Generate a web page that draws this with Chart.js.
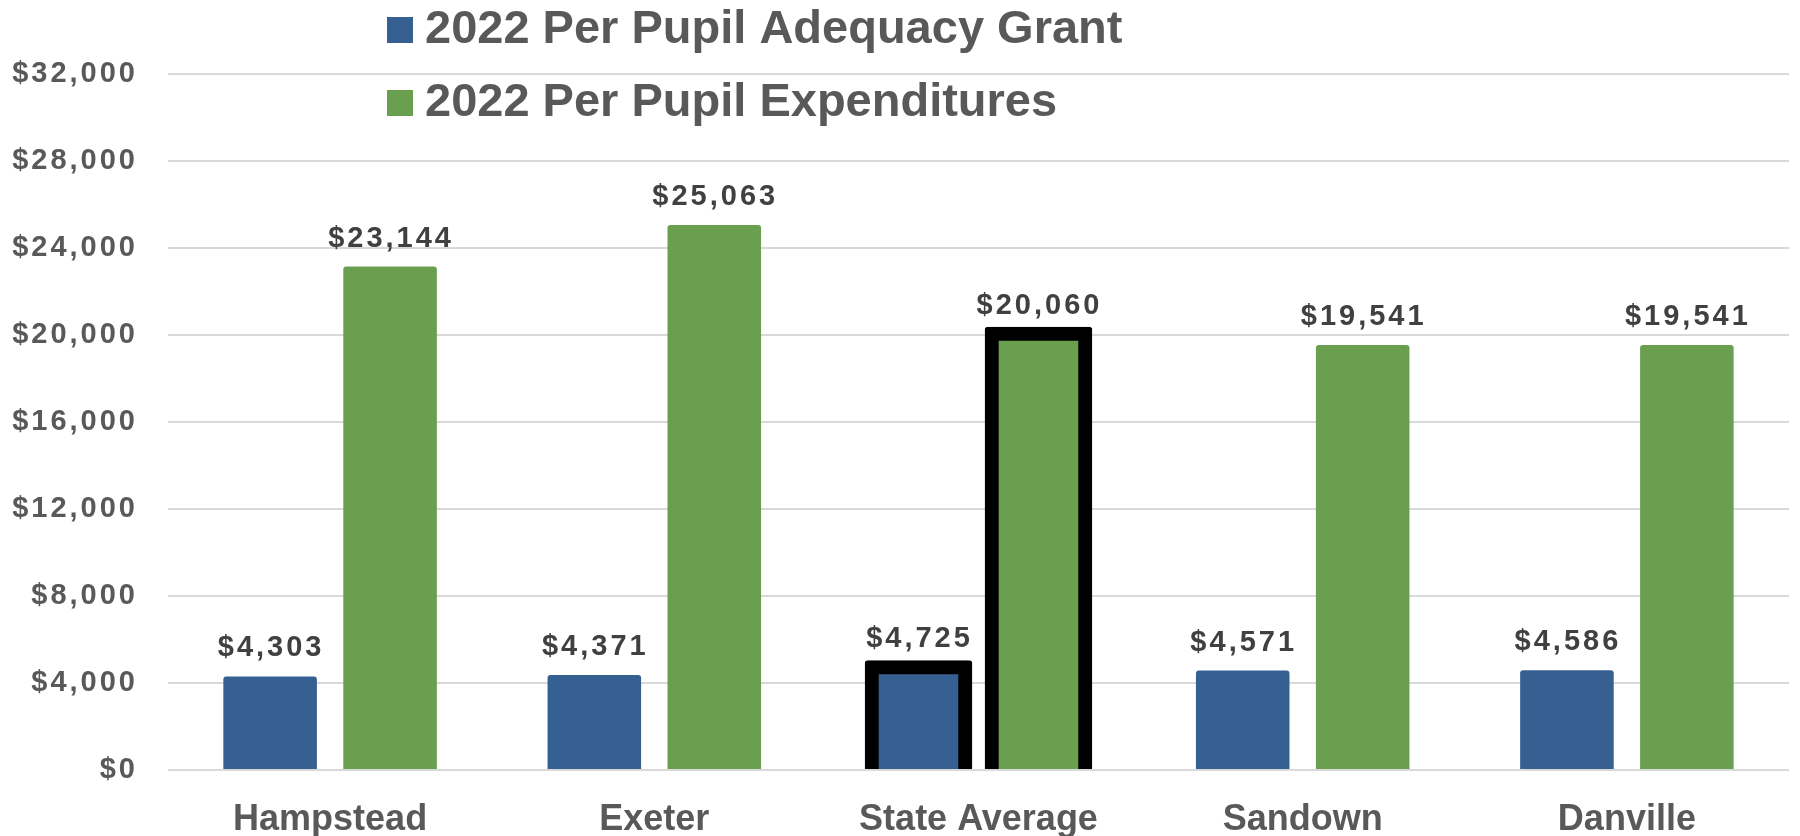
<!DOCTYPE html>
<html>
<head>
<meta charset="utf-8">
<title>Per Pupil Adequacy Grant vs Expenditures</title>
<script src="https://cdn.jsdelivr.net/npm/chart.js@4.4.1/dist/chart.umd.min.js"></script>
<style>
  html, body { margin: 0; padding: 0; background: #fff; }
  #wrap { width: 1800px; height: 836px; }
</style>
</head>
<body>
<div id="wrap"><canvas id="barChart" width="1800" height="836"></canvas></div>
<script>
// chart data
const categories = ['Hampstead', 'Exeter', 'State Average', 'Sandown', 'Danville'];
const adequacyGrant = [4303, 4371, 4725, 4571, 4586];
const expenditures = [23144, 25063, 20060, 19541, 19541];
const seriesNames = ['2022 Per Pupil Adequacy Grant', '2022 Per Pupil Expenditures'];
const yTicks = [0, 4000, 8000, 12000, 16000, 20000, 24000, 28000, 32000];
const highlighted = ['State Average'];

const BLUE = '#366092';
const GREEN = '#6a9f50';
const FONT = '"Liberation Sans", Arial, sans-serif';

const money = v => '$' + Number(v).toLocaleString('en-US');
const isHi = categories.map(c => highlighted.includes(c));

// outline only the highlighted category, centred on the bar edge like Excel
const hiBorder = isHi.map(h => h ? 14 : 0);
const hiInflate = isHi.map(h => h ? 7 : 0);

// draws spaced data labels, switches spacing off for x labels, draws legend
const labelsAndLegend = {
    id: 'labelsAndLegend',
    beforeDraw(chart) {
        chart.ctx.letterSpacing = '3px';
    },
    afterDatasetsDraw(chart) {
        const ctx = chart.ctx;
        ctx.save();
        ctx.font = 'bold 29px ' + FONT;
        ctx.fillStyle = '#404040';
        ctx.textAlign = 'center';
        ctx.textBaseline = 'alphabetic';
        chart.data.datasets.forEach((ds, di) => {
            const meta = chart.getDatasetMeta(di);
            meta.data.forEach((bar, i) => {
                ctx.fillText(money(ds.data[i]), bar.x + 1, bar.y - 20);
            });
        });
        ctx.restore();
        ctx.letterSpacing = '0px';
    },
    afterDraw(chart) {
        const ctx = chart.ctx;
        ctx.save();
        ctx.letterSpacing = '0px';
        ctx.font = 'bold 47px ' + FONT;
        ctx.textBaseline = 'alphabetic';
        ctx.textAlign = 'left';
        chart.data.datasets.forEach((ds, di) => {
            const top = 17 + di * 73;
            ctx.fillStyle = ds.backgroundColor;
            ctx.fillRect(387, top, 26, 26);
            ctx.fillStyle = '#595959';
            ctx.fillText(ds.label, 425, top + 26);
        });
        ctx.restore();
    }
};

const chart = new Chart(document.getElementById('barChart'), {
    type: 'bar',
    data: {
        labels: categories,
        datasets: [
            {
                label: seriesNames[0],
                data: adequacyGrant,
                backgroundColor: BLUE,
                borderColor: '#000',
                borderWidth: hiBorder,
                inflateAmount: hiInflate,
                borderRadius: 3,
                categoryPercentage: 0.74,
                barPercentage: 0.78
            },
            {
                label: seriesNames[1],
                data: expenditures,
                backgroundColor: GREEN,
                borderColor: '#000',
                borderWidth: hiBorder,
                inflateAmount: hiInflate,
                borderRadius: 3,
                categoryPercentage: 0.74,
                barPercentage: 0.78
            }
        ]
    },
    options: {
        responsive: false,
        animation: false,
        layout: { padding: { top: 74, right: 11, bottom: 0, left: 0 } },
        plugins: {
            legend: { display: false },
            tooltip: { enabled: false }
        },
        scales: {
            x: {
                grid: { display: false },
                border: { display: false },
                ticks: {
                    z: 1,
                    padding: 20,
                    color: '#595959',
                    font: { family: FONT, size: 36, weight: 'bold' }
                },
                afterFit: s => { s.height = 66; }
            },
            y: {
                min: yTicks[0],
                max: yTicks[yTicks.length - 1],
                afterBuildTicks: s => { s.ticks = yTicks.map(v => ({ value: v })); },
                grid: { color: '#d9d9d9', lineWidth: 2, drawTicks: false },
                border: { display: false },
                ticks: {
                    padding: 30,
                    color: '#595959',
                    font: { family: FONT, size: 29, weight: 'bold' },
                    callback: v => money(v)
                },
                afterFit: s => { s.width = 168; }
            }
        }
    },
    plugins: [labelsAndLegend]
});
</script>
</body>
</html>
